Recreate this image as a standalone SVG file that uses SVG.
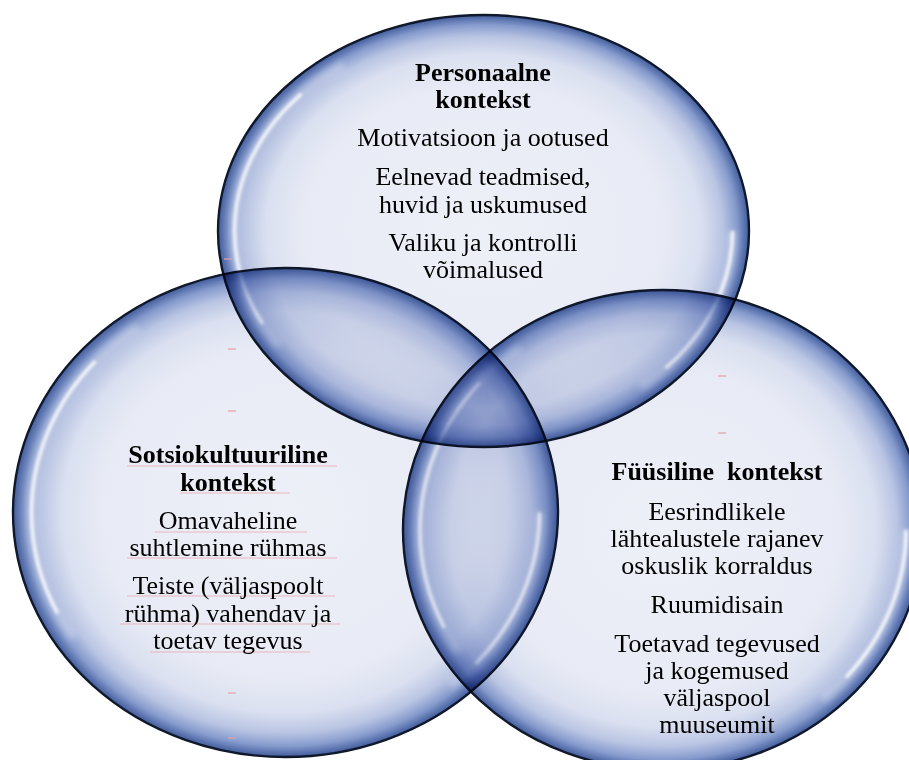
<svg xmlns="http://www.w3.org/2000/svg" width="909" height="760" viewBox="0 0 909 760">
<style>
.node{mix-blend-mode:multiply}
.fill{fill:url(#bub);stroke:none}
.rim{fill:none;stroke:#10182b;stroke-width:2.4}
.hl{fill:none;stroke:#ffffff;stroke-width:3.5;stroke-dasharray:40 115 65 140;filter:url(#soft);opacity:0.85}
.hl2{fill:none;stroke:#ffffff;stroke-width:9;stroke-dasharray:48 100 85 127;filter:url(#soft2);opacity:0.3}
.t{font-family:"Liberation Serif","Times New Roman",serif;font-size:26px;fill:#000;text-anchor:middle}
.b{font-weight:bold}
.sq{stroke:#e9a7b0;stroke-width:1;opacity:0.8}
.dash{stroke:#e6a0aa;stroke-width:1.2}
</style>
<defs>
<radialGradient id="bub" cx="0.5" cy="0.5" r="0.5">
<stop offset="0" stop-color="#eef0f8"/>
<stop offset="0.68" stop-color="#e8ebf5"/>
<stop offset="0.82" stop-color="#dae0f0"/>
<stop offset="0.9" stop-color="#bac5e3"/>
<stop offset="0.955" stop-color="#869bcd"/>
<stop offset="1" stop-color="#415c9c"/>
</radialGradient>
<filter id="soft" x="-10%" y="-10%" width="120%" height="120%"><feGaussianBlur stdDeviation="1.4"/></filter>
<filter id="soft2" x="-10%" y="-10%" width="120%" height="120%"><feGaussianBlur stdDeviation="3"/></filter>
</defs>
<rect x="0" y="0" width="909" height="760" fill="#ffffff"/>

<g id="personaalne" class="node">
<ellipse class="fill" cx="483.5" cy="231" rx="265.5" ry="216"/>
<ellipse class="hl2" cx="483.5" cy="231" rx="249" ry="201" pathLength="360"/>
<ellipse class="hl" cx="483.5" cy="231" rx="249" ry="201" pathLength="360"/>
<ellipse class="rim" cx="483.5" cy="231" rx="265.5" ry="216"/>
<text class="t b" x="483" y="81">Personaalne</text>
<text class="t b" x="483" y="108">kontekst</text>
<text class="t" x="483" y="146">Motivatsioon ja ootused</text>
<text class="t" x="483" y="185">Eelnevad teadmised,</text>
<text class="t" x="483" y="213">huvid ja uskumused</text>
<text class="t" x="483" y="251">Valiku ja kontrolli</text>
<text class="t" x="483" y="278">võimalused</text>
</g>

<g id="sotsiokultuuriline" class="node">
<ellipse class="fill" cx="285.5" cy="512.5" rx="272.5" ry="244.5"/>
<ellipse class="hl2" cx="285.5" cy="512.5" rx="254" ry="228" pathLength="360"/>
<ellipse class="hl" cx="285.5" cy="512.5" rx="254" ry="228" pathLength="360"/>
<ellipse class="rim" cx="285.5" cy="512.5" rx="272.5" ry="244.5"/>
<line class="sq" x1="127" y1="466" x2="337" y2="466"/>
<line class="sq" x1="180" y1="493" x2="290" y2="493"/>
<line class="sq" x1="155" y1="532" x2="307" y2="532"/>
<line class="sq" x1="127" y1="558" x2="337" y2="558"/>
<line class="sq" x1="127" y1="596" x2="335" y2="596"/>
<line class="sq" x1="120" y1="624" x2="340" y2="624"/>
<line class="sq" x1="150" y1="652" x2="310" y2="652"/>
<text class="t b" x="228" y="463">Sotsiokultuuriline</text>
<text class="t b" x="228" y="491">kontekst</text>
<text class="t" x="228" y="529">Omavaheline</text>
<text class="t" x="228" y="556">suhtlemine rühmas</text>
<text class="t" x="228" y="594">Teiste (väljaspoolt</text>
<text class="t" x="228" y="622">rühma) vahendav ja</text>
<text class="t" x="228" y="649">toetav tegevus</text>
</g>

<g id="fuusiline" class="node">
<ellipse class="fill" cx="663" cy="530" rx="260" ry="240"/>
<ellipse class="hl2" cx="663" cy="530" rx="243" ry="224" pathLength="360"/>
<ellipse class="hl" cx="663" cy="530" rx="243" ry="224" pathLength="360"/>
<ellipse class="rim" cx="663" cy="530" rx="260" ry="240"/>
<text class="t b" x="717" y="480" xml:space="preserve">Füüsiline  kontekst</text>
<text class="t" x="717" y="520">Eesrindlikele</text>
<text class="t" x="717" y="547">lähtealustele rajanev</text>
<text class="t" x="717" y="574">oskuslik korraldus</text>
<text class="t" x="717" y="613">Ruumidisain</text>
<text class="t" x="717" y="652">Toetavad tegevused</text>
<text class="t" x="717" y="679">ja kogemused</text>
<text class="t" x="717" y="706">väljaspool</text>
<text class="t" x="717" y="733">muuseumit</text>
</g>

<g id="marks">
<line class="dash" x1="224" y1="259" x2="232" y2="259"/>
<line class="dash" x1="228" y1="349" x2="236" y2="349"/>
<line class="dash" x1="228" y1="411" x2="236" y2="411"/>
<line class="dash" x1="228" y1="693" x2="236" y2="693"/>
<line class="dash" x1="228" y1="738" x2="236" y2="738"/>
<line class="dash" x1="718" y1="376" x2="726" y2="376"/>
<line class="dash" x1="718" y1="433" x2="726" y2="433"/>
</g>
<g id="connectors"/>
</svg>
